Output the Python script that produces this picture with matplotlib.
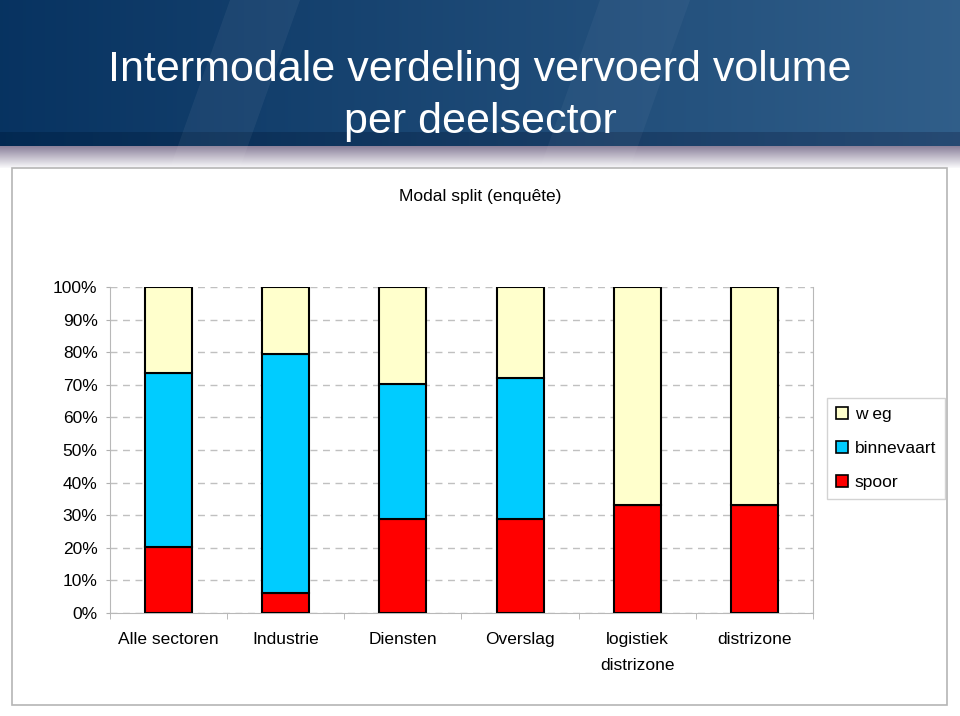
import numpy as np
import matplotlib
matplotlib.use("Agg")
import matplotlib.pyplot as plt
from matplotlib.patches import Patch, Rectangle

plt.rcParams['font.family'] = ['Liberation Sans', 'DejaVu Sans']

# data (percent of volume per sector)
categories = ['Alle sectoren', 'Industrie', 'Diensten', 'Overslag', 'logistiek\ndistrizone', 'distrizone']
spoor = [20.2, 6.1, 28.8, 28.8, 33.1, 33.1]
binnevaart = [53.5, 73.3, 41.4, 43.3, 0.0, 0.0]
weg = [26.3, 20.6, 29.8, 27.9, 66.9, 66.9]

col_weg = '#FFFFCC'
col_binn = '#00CCFF'
col_spoor = '#FF0000'

W, H = 960, 716
fig = plt.figure(figsize=(W / 100, H / 100), dpi=100)

# background: blue header band fading to white
bg = fig.add_axes([0, 0, 1, 1])
bg.set_xlim(0, W)
bg.set_ylim(H, 0)
bg.axis('off')
img = np.ones((H, W, 3))
xs = np.linspace(0, 1, W)[None, :, None]
left = np.array([0.03, 0.20, 0.38])
right = np.array([0.19, 0.37, 0.54])
img[0:132] = left + (right - left) * xs
left_d = np.array([0.01, 0.16, 0.32])
right_d = np.array([0.15, 0.29, 0.45])
img[132:146] = left_d + (right_d - left_d) * xs
top_g = np.array([0.55, 0.51, 0.61])
n = 168 - 146
for k in range(n):
    t = k / (n - 1)
    img[146 + k] = top_g + (np.array([0.97, 0.97, 0.98]) - top_g) * t
img[168:] = 1.0
bg.imshow(img, extent=[0, W, H, 0], aspect='auto', zorder=0)
# lighter diagonal stripes in the header
for x0, x1, w, a in [(230, 170, 70, 0.05), (600, 540, 90, 0.04)]:
    bg.fill([x0, x0 + w, x1 + w, x1], [0, 0, 168, 168], color='white', alpha=a, lw=0, zorder=1)
bg.add_patch(Rectangle((12, 168), 935, 537, facecolor='white', edgecolor='#b5b5b5', lw=1.2, zorder=2))

fig.text(0.5, 1 - 70 / H, 'Intermodale verdeling vervoerd volume', color='white',
         fontsize=31, ha='center', va='center')
fig.text(0.5, 1 - 122 / H, 'per deelsector', color='white', fontsize=31, ha='center', va='center')
fig.text(0.5, 1 - 196 / H, 'Modal split (enquête)', color='black', fontsize=12.5, ha='center', va='center')

ax = fig.add_axes([110 / W, (H - 613) / H, (813 - 110) / W, (613 - 287) / H])
ax.set_facecolor('none')
x = np.arange(len(categories))
bw = 0.4
ax.bar(x, spoor, bw, color=col_spoor, edgecolor='black', lw=1.5, zorder=3)
ax.bar(x, binnevaart, bw, bottom=spoor, color=col_binn, edgecolor='black', lw=1.5, zorder=3)
bottom2 = np.array(spoor) + np.array(binnevaart)
ax.bar(x, weg, bw, bottom=bottom2, color=col_weg, edgecolor='black', lw=1.5, zorder=3)

ax.set_xlim(-0.5, len(categories) - 0.5)
ax.set_ylim(0, 100)
ax.set_yticks(np.arange(0, 101, 10))
ax.set_yticklabels([f'{v}%' for v in range(0, 101, 10)], fontsize=12.5)
ax.set_xticks(x)
ax.set_xticklabels(categories, fontsize=12.5, linespacing=1.85)
ax.set_xticks(np.arange(-0.5, len(categories), 1), minor=True)
ax.tick_params(axis='x', which='major', length=0, pad=14)
ax.tick_params(axis='x', which='minor', length=4, color='#b0b0b0', direction='out')
ax.tick_params(axis='y', length=3, color='#b0b0b0', pad=6)
ax.yaxis.grid(True, linestyle=(0, (5, 4)), color='#c0c0c0', lw=1, zorder=0)
for s in ['left', 'bottom', 'right']:
    ax.spines[s].set_color('#b8b8b8')
ax.spines['top'].set_visible(False)

handles = [Patch(facecolor=col_weg, edgecolor='black', lw=1.2),
           Patch(facecolor=col_binn, edgecolor='black', lw=1.2),
           Patch(facecolor=col_spoor, edgecolor='black', lw=1.2)]
leg = fig.legend(handles, ['w eg', 'binnevaart', 'spoor'], loc='upper left',
                 bbox_to_anchor=(827 / W, 1 - 398 / H), fontsize=12.5, frameon=True,
                 fancybox=False, edgecolor='#c8c8c8', handlelength=0.7, handleheight=0.7,
                 handletextpad=0.4, labelspacing=1.1, borderpad=0.5, borderaxespad=0)
leg.get_frame().set_linewidth(1.0)

fig.savefig('out.png', dpi=100)
